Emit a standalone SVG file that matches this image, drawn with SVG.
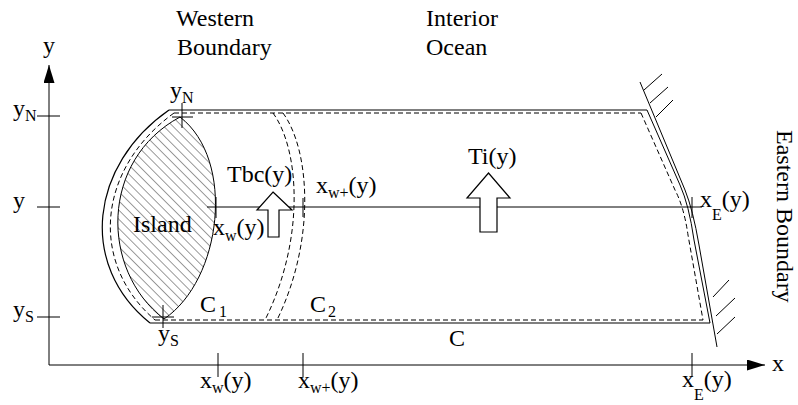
<svg xmlns="http://www.w3.org/2000/svg" width="798" height="405" viewBox="0 0 798 405">
<style>
text{font-family:"Liberation Serif","Times New Roman",serif;font-size:24px;fill:#000}
.sub{font-size:16px}
.ln{fill:none;stroke:#000;stroke-width:1.2}
.thin{fill:none;stroke:#000;stroke-width:1}
.ds{fill:none;stroke:#000;stroke-width:1;stroke-dasharray:5 3}
.tk{stroke:#000;stroke-width:1;fill:none}
.blk{fill:#fff;stroke:#000;stroke-width:1.2}
</style>
<defs>
<pattern id="hatch" width="6.5" height="6.5" patternUnits="userSpaceOnUse" patternTransform="rotate(-45)">
<line x1="0" y1="-1" x2="0" y2="8" stroke="#222" stroke-width="0.9"/>
</pattern>
<marker id="ah" markerWidth="18" markerHeight="11" refX="18" refY="5.5" orient="auto" markerUnits="userSpaceOnUse">
<path d="M0,0 L18,5.5 L0,11 z" fill="#000"/>
</marker>
</defs>

<g id="connectors">
<line class="tk" x1="49" y1="365" x2="49" y2="65" marker-end="url(#ah)"/>
<line class="tk" x1="49" y1="365" x2="765" y2="365" marker-end="url(#ah)"/>
<line class="tk" x1="37" y1="116" x2="60" y2="116"/>
<line class="tk" x1="37" y1="207" x2="60" y2="207"/>
<line class="tk" x1="37" y1="317" x2="60" y2="317"/>
<line class="tk" x1="218" y1="353" x2="218" y2="377"/>
<line class="tk" x1="303" y1="353" x2="303" y2="377"/>
<line class="tk" x1="692" y1="353" x2="692" y2="377"/>
<line class="tk" x1="207" y1="207" x2="702" y2="207"/>
<line class="tk" x1="216" y1="197" x2="216" y2="218"/>
<line class="tk" x1="303" y1="198" x2="303" y2="217"/>
<line class="tk" x1="692" y1="197" x2="692" y2="218"/>
</g>

<g id="western-boundary">
<path class="ln" d="M169,110 C90,165 78,265 150,323"/>
<path class="ds" d="M174,113 C98,168 88,262 155,320"/>
</g>

<g id="island">
<path d="M180,117 C100,160 100,270 164,319 C222,280 236,160 180,117 Z" fill="url(#hatch)" stroke="#000" stroke-width="1"/>
<line class="tk" x1="172" y1="117" x2="193" y2="117"/>
<line class="tk" x1="182" y1="103" x2="182" y2="128"/>
<line class="tk" x1="152" y1="317" x2="174" y2="317"/>
<line class="tk" x1="163" y1="305" x2="163" y2="328"/>
</g>

<g id="ocean">
<line class="ln" x1="169" y1="110" x2="647" y2="110" stroke-width="1.5"/>
<line class="ds" x1="174" y1="113" x2="641" y2="113"/>
<line class="ln" x1="150" y1="323" x2="710" y2="323"/>
<line class="ds" x1="155" y1="320" x2="703" y2="320"/>
<path class="ds" d="M273,113 C300,150 305,240 265,320"/>
<path class="ds" d="M283,113 C310,150 316,240 277,320"/>
</g>

<g id="eastern-boundary">
<path class="thin" d="M647,110 L680,185 Q689,205 694,240 L710,323"/>
<path class="thin" d="M640,82 L685,190 Q693,210 699,245 L717,347"/>
<path class="ds" d="M641,113 L675,190 Q684,207 688,235 L703,320"/>
<line class="tk" x1="644" y1="90" x2="662" y2="74"/>
<line class="tk" x1="650" y1="103" x2="668" y2="87"/>
<line class="tk" x1="656" y1="117" x2="673" y2="100"/>
<line class="tk" x1="713" y1="297" x2="729" y2="280"/>
<line class="tk" x1="716" y1="316" x2="735" y2="298"/>
<line class="tk" x1="717" y1="334" x2="735" y2="317"/>
</g>

<g id="arrow-tbc">
<path class="blk" d="M273,192 L292,210 L279,210 L279,237 L268,237 L268,210 L257,210 Z"/>
</g>
<g id="arrow-ti">
<path class="blk" d="M488.5,173 L510,198 L497,198 L497,232 L480,232 L480,198 L467,198 Z"/>
</g>

<g id="labels">
<text x="176" y="26">Western</text>
<text x="177" y="55">Boundary</text>
<text x="426" y="26">Interior</text>
<text x="426" y="55">Ocean</text>
<text x="43" y="53">y</text>
<text x="13" y="116">y<tspan class="sub" dy="5">N</tspan></text>
<text x="13" y="208">y</text>
<text x="13" y="317">y<tspan class="sub" dy="5">S</tspan></text>
<text x="170" y="98">y<tspan class="sub" dy="5">N</tspan></text>
<text x="158" y="341">y<tspan class="sub" dy="5">S</tspan></text>
<text x="227" y="182">Tbc(y)</text>
<text x="316" y="193">x<tspan class="sub" dy="5">w+</tspan><tspan dy="-5">(y)</tspan></text>
<text x="468" y="164">Ti(y)</text>
<text x="700" y="207">x<tspan class="sub" dy="13">E</tspan><tspan dy="-13">(y)</tspan></text>
<text x="133" y="232">Island</text>
<text x="213" y="235">x<tspan class="sub" dy="6">w</tspan><tspan dy="-6">(y)</tspan></text>
<text x="200" y="312">C<tspan class="sub" dx="3" dy="5">1</tspan></text>
<text x="310" y="312">C<tspan class="sub" dx="2" dy="5">2</tspan></text>
<text x="449" y="346">C</text>
<text x="200" y="388">x<tspan class="sub" dy="5">w</tspan><tspan dy="-5">(y)</tspan></text>
<text x="298" y="388">x<tspan class="sub" dy="5">w+</tspan><tspan dy="-5">(y)</tspan></text>
<text x="682" y="387">x<tspan class="sub" dy="13">E</tspan><tspan dy="-13">(y)</tspan></text>
<text x="772" y="371">x</text>
<text transform="translate(777,130) rotate(90)">Eastern Boundary</text>
</g>
</svg>
